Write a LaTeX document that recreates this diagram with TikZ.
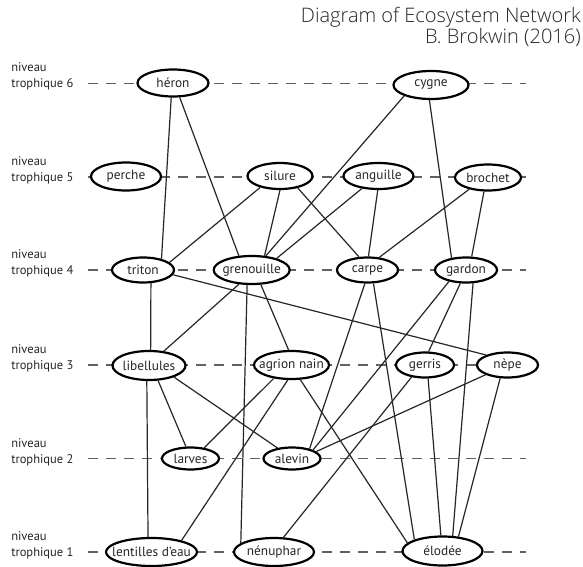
\documentclass[tikz,border=0pt]{standalone}
\usepackage{fontspec}
\setmainfont{PT Sans}
\IfFontExistsTF{Open Sans Light}{\newfontfamily\titlefont{Open Sans Light}}{\newfontfamily\titlefont{Open Sans}}
\usetikzlibrary{shapes.geometric}
\newcommand{\nm}[1]{\makebox[0pt]{#1}}
\begin{document}
\begin{tikzpicture}[x=0.75pt,y=-0.75pt,
  sp/.style={draw=black, line width=1.65pt, fill=white, ellipse, inner sep=0pt,
     font=\fontsize{10}{11}\selectfont, text=black!85},
  es/.style 2 args={minimum width={#1*0.75pt-1.5pt}, minimum height={#2*0.75pt-1.5pt}},
  lvl/.style={draw=black!62, line width=1.15pt, dash pattern=on 7.5pt off 6pt},
  link/.style={draw=black!85, line width=0.9pt},
  lbl/.style={font=\fontsize{9.4}{12}\selectfont, anchor=base west, inner sep=0pt, text=black!85},
  ttl/.style={font=\titlefont\fontsize{15}{13.5}\selectfont, align=right, anchor=north east, inner sep=0pt, text=black!85}
]
\fill[white] (0,0) rectangle (583,567);
\useasboundingbox (0,0) rectangle (583,567);

% title
\node[ttl] (title) at (581,7) {Diagram of Ecosystem Network\\B. Brokwin (2016)};

% level labels
\foreach \n/\y in {6/83.5,5/177,4/270,3/365,2/458.5,1/552}{
  \node[lbl] (niv\n) at (11,\y-11.5) {niveau};
  \node[lbl] (tro\n) at (11,\y+4.5) {trophique \n};
  \coordinate (ls\n) at (88,\y);
  \coordinate (le\n) at (526,\y);
  \draw[lvl] (ls\n) -- (le\n);
}

% species
\node[sp, es={73}{29}] (heron) at (173,83) {\nm{héron}};
\node[sp, es={77}{30}] (cygne) at (431,85) {\nm{cygne}};
\node[sp, es={72}{30}] (perche) at (126,176.5) {\nm{perche}};
\node[sp, es={67}{28}] (silure) at (280,176) {\nm{silure}};
\node[sp, es={72}{28}] (anguille) at (378.5,176) {\nm{anguille}};
\node[sp, es={68}{28}] (brochet) at (488,177.5) {\nm{brochet}};
\node[sp, es={64}{27}] (triton) at (143,270) {\nm{triton}};
\node[sp, es={78}{30}] (grenouille) at (251.7,270) {\nm{grenouille}};
\node[sp, es={63}{27}] (carpe) at (367.5,270) {\nm{carpe}};
\node[sp, es={64}{27}] (gardon) at (466,270) {\nm{gardon}};
\node[sp, es={75}{31}] (libellules) at (149,365.5) {\nm{libellules}};
\node[sp, es={77}{30}] (agrion) at (291.5,365) {\nm{agrion nain}};
\node[sp, es={60}{27}] (gerris) at (425,365) {\nm{gerris}};
\node[sp, es={63}{27}] (nepe) at (507.5,365) {\nm{nèpe}};
\node[sp, es={59}{24}] (larves) at (190.5,458.5) {\nm{larves}};
\node[sp, es={59}{24}] (alevin) at (292,458.5) {\nm{alevin}};
\node[sp, es={93}{30}] (lentilles) at (151.5,552) {\nm{lentilles d'eau}};
\node[sp, es={82}{30}] (nenuphar) at (274,552) {\nm{nénuphar}};
\node[sp, es={82}{31}] (elodee) at (442.5,551) {\nm{élodée}};

% trophic links
\draw[link] (heron.263) -- (triton.31);
\draw[link] (heron.295) -- (grenouille.132);
\draw[link] (cygne.202) -- (grenouille.45);
\draw[link] (cygne.264) -- (gardon.140);
\draw[link] (silure.210) -- (triton.16);
\draw[link] (silure.270) -- (grenouille.48);
\draw[link] (silure.326) -- (carpe.123);
\draw[link] (anguille.217) -- (grenouille.25);
\draw[link] (anguille.267) -- (carpe.86);
\draw[link] (brochet.212) -- (carpe.47);
\draw[link] (brochet.254) -- (gardon.67);
\draw[link] (triton.301) -- (libellules.84);
\draw[link] (triton.351) -- (nepe.155);
\draw[link] (grenouille.228) -- (libellules.44);
\draw[link] (grenouille.253) -- (nenuphar.165);
\draw[link] (grenouille.302) -- (agrion.101);
\draw[link] (carpe.259) -- (alevin.29);
\draw[link] (carpe.294) -- (elodee.158);
\draw[link] (gardon.214) -- (alevin.22);
\draw[link] (gardon.247) -- (gerris.75);
\draw[link] (gardon.298) -- (elodee.56);
\draw[link] (libellules.262) -- (lentilles.103);
\draw[link] (libellules.301) -- (larves.111);
\draw[link] (libellules.335) -- (alevin.144);
\draw[link] (agrion.217) -- (larves.38);
\draw[link] (agrion.256) -- (lentilles.21);
\draw[link] (agrion.301) -- (elodee.167);
\draw[link] (gerris.222) -- (nenuphar.57);
\draw[link] (gerris.283) -- (elodee.96);
\draw[link] (nepe.204) -- (alevin.16);
\draw[link] (nepe.241) -- (elodee.42);
\end{tikzpicture}
\end{document}
